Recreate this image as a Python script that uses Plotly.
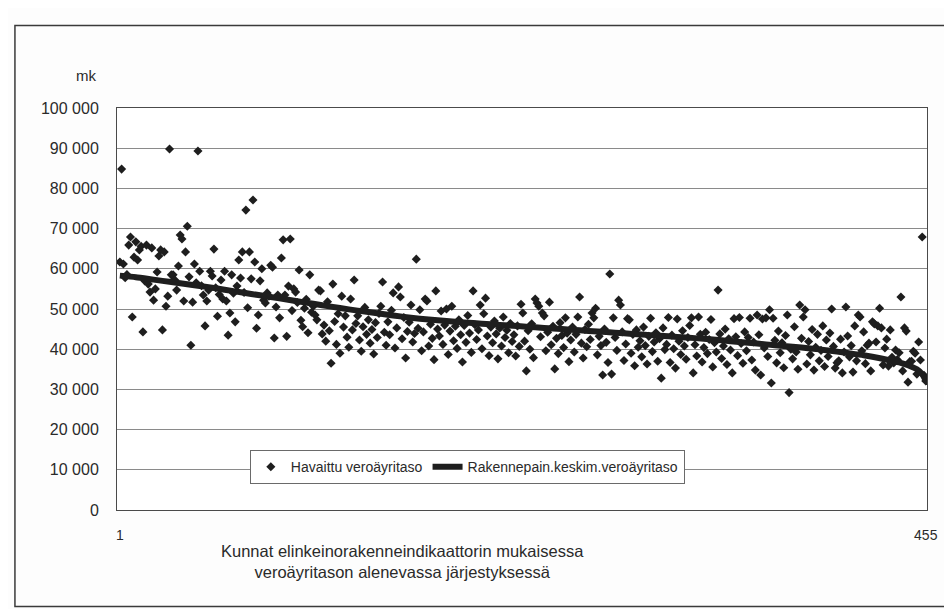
import plotly.graph_objects as go

# ---------------- data ----------------
municipality_index = list(range(1, 456))

observed_level = [
    61700, 84800, 61200, 57800, 58600, 65900, 67900, 48000, 62900, 66700,
    62200, 64700, 65600, 44300, 57000, 65900, 56200, 54200, 65200, 52200,
    55000, 59200, 63200, 64700, 44800, 64200, 50700, 53200, 89800, 58500,
    58500, 57200, 54700, 60700, 68400, 67400, 52000, 64200, 70600, 58000,
    41000, 51700, 61200, 56500, 89300, 59400, 55800, 53500, 45800, 52000,
    54700, 59400, 58200, 64900, 55300, 48200, 53600, 57200, 52500, 59400,
    52000, 43500, 49000, 58500, 53900, 46800, 55700, 62200, 57700, 64200,
    54100, 74600, 50300, 64200, 57500, 77100, 61700, 45200, 48500, 57000,
    60000, 52200, 51500, 54000, 53200, 60900, 60400, 42800, 50500, 53500,
    47800, 62700, 67200, 53500, 43200, 55700, 67400, 49600, 55000, 54200,
    51600, 59700, 47200, 45600, 50200, 52400, 44100, 58500, 49200, 50700,
    48500, 47300, 54700, 54500, 43800, 46000, 42000, 51800, 44600, 36500,
    56200, 46900, 41200, 48800, 39000, 53200, 45500, 48300, 43000, 40500,
    52500, 44800, 57200, 46400, 48300, 42300, 39500, 45600, 50400, 43700,
    47300, 41500, 44900, 38800, 46600, 42900, 48900, 50700, 56700, 44200,
    41000, 46800, 43600, 49700, 54000, 40300, 45300, 55500, 53000, 42600,
    47900, 37800, 44400, 46700, 51000, 41800, 43900, 62400, 45200, 49800,
    39600, 44300, 52500, 52000, 40800, 46200, 42700, 37400, 54500, 45000,
    43300, 49500, 41200, 46000, 50000, 38700, 44500, 50700, 42100, 45700,
    40200, 47300, 43600, 36800, 45900, 41700, 48400, 44000, 39200, 54500,
    46100, 42400, 44800, 51000, 40100, 48800, 52700, 43300, 38400, 45500,
    41600, 47000, 43800, 37600, 45200, 40800, 48000, 42900, 44700, 39100,
    46400, 41900, 43600, 38300, 45800, 40700, 51200, 49000, 42000, 34600,
    44600, 40000, 46300, 37900, 52500, 51500, 50700, 43100, 49000, 48300,
    39600, 44200, 51700, 41100, 45700, 35100, 42700, 38900, 46600, 43400,
    40400, 47800, 44000, 36900, 42300, 45500, 39300, 43700, 48000, 53000,
    41500, 37800, 44900, 40600, 46200, 42400, 49000, 47800, 50200, 38600,
    43200, 40900, 33600, 45000, 41700, 36700, 58700, 33800, 47800, 42900,
    39700, 52200, 51000, 44300, 37200, 41300, 47600, 47300, 39000, 43700,
    35900, 44800, 40500, 42100, 38100, 45500, 40900, 36300, 43200, 47700,
    39400, 41800, 44100, 37000, 42600, 32800, 45300, 39900, 41200, 47900,
    36700, 43500, 40100, 35300, 47500, 42000, 38700, 44600, 40800, 37500,
    42900, 45900, 47800, 34100, 41100, 38300, 48000, 43700, 36800, 40400,
    44200, 38900, 42400, 47400, 35600, 41600, 39300, 54700, 43800, 37700,
    40800, 45000, 36200, 42600, 39800, 34100, 47600, 43100, 38400, 47900,
    41400, 36500, 44300, 39600, 42900, 47700, 37300, 41800, 34800, 48500,
    43600, 33600, 47500, 40300, 47800, 38200, 49800, 31600, 47700, 42200,
    36600, 44500, 39100, 41600, 35400, 43400, 48500, 29200, 40000, 37600,
    45600, 39300, 35000, 51000, 42700, 48000, 49800, 36300, 41900, 38600,
    44900, 34800, 40500, 43700, 37100, 39700, 45800, 35700, 42300, 38200,
    44000, 50000, 40700, 35300, 36600, 37100, 42500, 34100, 39300, 50500,
    43300, 38100, 40900, 34300, 45800, 37100, 48500, 48000, 39600, 44300,
    36400, 41000, 41500, 34600, 46800, 46300, 41800, 45800, 50200, 45300,
    36100, 40300, 42500, 35800, 44800, 38000, 36600, 39800, 37400, 39100,
    53000, 34600, 45300, 44500, 31800, 36900, 37000, 39500, 39000, 33800,
    41800, 37300, 67900, 33500, 32100,
]

trend_index = [1, 10, 20, 30, 40, 50, 60, 70, 80, 90, 100, 110, 120, 130,
               140, 150, 160, 170, 180, 190, 200, 210, 220, 230, 240, 250,
               260, 270, 280, 290, 300, 310, 320, 330, 340, 350, 360, 370,
               380, 390, 400, 410, 420, 430, 440, 445, 450, 453, 455]
trend_level = [58300, 57900, 57300, 56700, 56100, 55500, 54800, 54100, 53400,
               52700, 52000, 51300, 50600, 49900, 49300, 48700, 48100, 47600,
               47200, 46800, 46500, 46200, 45900, 45600, 45300, 45000, 44700,
               44400, 44100, 43800, 43500, 43200, 42900, 42600, 42200, 41800,
               41400, 41000, 40600, 40200, 39700, 39100, 38500, 37700, 36700,
               36000, 35000, 33800, 32200]

y_tick_values = [0, 10000, 20000, 30000, 40000, 50000, 60000, 70000, 80000,
                 90000, 100000]
y_tick_labels = ["0", "10 000", "20 000", "30 000", "40 000", "50 000",
                 "60 000", "70 000", "80 000", "90 000", "100 000"]
x_tick_values = [1, 455]
x_tick_labels = ["1", "455"]

series_names = ["Havaittu veroäyritaso", "Rakennepain.keskim.veroäyritaso"]
unit_label = "mk"
x_title = ("Kunnat elinkeinorakenneindikaattorin mukaisessa<br>"
           "veroäyritason alenevassa järjestyksessä")

# ---------------- figure ----------------
FONT = "Liberation Sans, Arial, sans-serif"
INK = "#1e1e1e"

fig = go.Figure()
fig.add_trace(go.Scatter(
    x=municipality_index, y=observed_level, mode="markers",
    name=series_names[0],
    marker=dict(symbol="diamond", size=7, color=INK, line=dict(width=0)),
))
fig.add_trace(go.Scatter(
    x=trend_index, y=trend_level, mode="lines",
    name=series_names[1],
    line=dict(color=INK, width=6, shape="spline", smoothing=0.6),
))

fig.update_layout(
    width=952, height=609,
    margin=dict(l=109, r=33, t=100, b=107),
    paper_bgcolor="#fdfdfd", plot_bgcolor="#ffffff",
    font=dict(family=FONT, size=15, color="#2a2a2a"),
    showlegend=True,
    legend=dict(
        orientation="h", x=0.164, y=0.149, xanchor="left", yanchor="top",
        bgcolor="#ffffff", bordercolor="#6a6a6a", borderwidth=1,
        font=dict(size=14, color="#2a2a2a"),
        itemwidth=30, tracegroupgap=0,
    ),
    shapes=[dict(type="rect", xref="paper", yref="paper",
                 x0=-0.126, x1=1.036, y0=-0.24, y1=1.205,
                 line=dict(color="#3a3a3a", width=1.5), layer="below")],
    annotations=[
        dict(text=unit_label, xref="paper", yref="paper", x=-0.038, y=1.082,
             xanchor="center", yanchor="middle",
             showarrow=False, font=dict(size=15)),
        dict(text=x_title, xref="paper", yref="paper", x=0.353, y=-0.127,
             showarrow=False, align="center", xanchor="center",
             yanchor="middle", font=dict(size=16.5)),
    ],
)
fig.update_xaxes(
    range=[-0.6, 455.7], tickvals=x_tick_values, ticktext=x_tick_labels,
    showgrid=False, zeroline=False, showline=True, linecolor="#4a4a4a",
    linewidth=1, mirror=True, ticks="", ticklabelstandoff=12,
    tickfont=dict(size=14),
)
fig.update_yaxes(
    range=[0, 100000], tickvals=y_tick_values, ticktext=y_tick_labels,
    showgrid=True, gridcolor="#8a8a8a", gridwidth=1, zeroline=False,
    showline=True, linecolor="#4a4a4a", linewidth=1, mirror=True,
    ticks="", ticklabelstandoff=14, tickfont=dict(size=16),
)

fig.write_html("out.html")
